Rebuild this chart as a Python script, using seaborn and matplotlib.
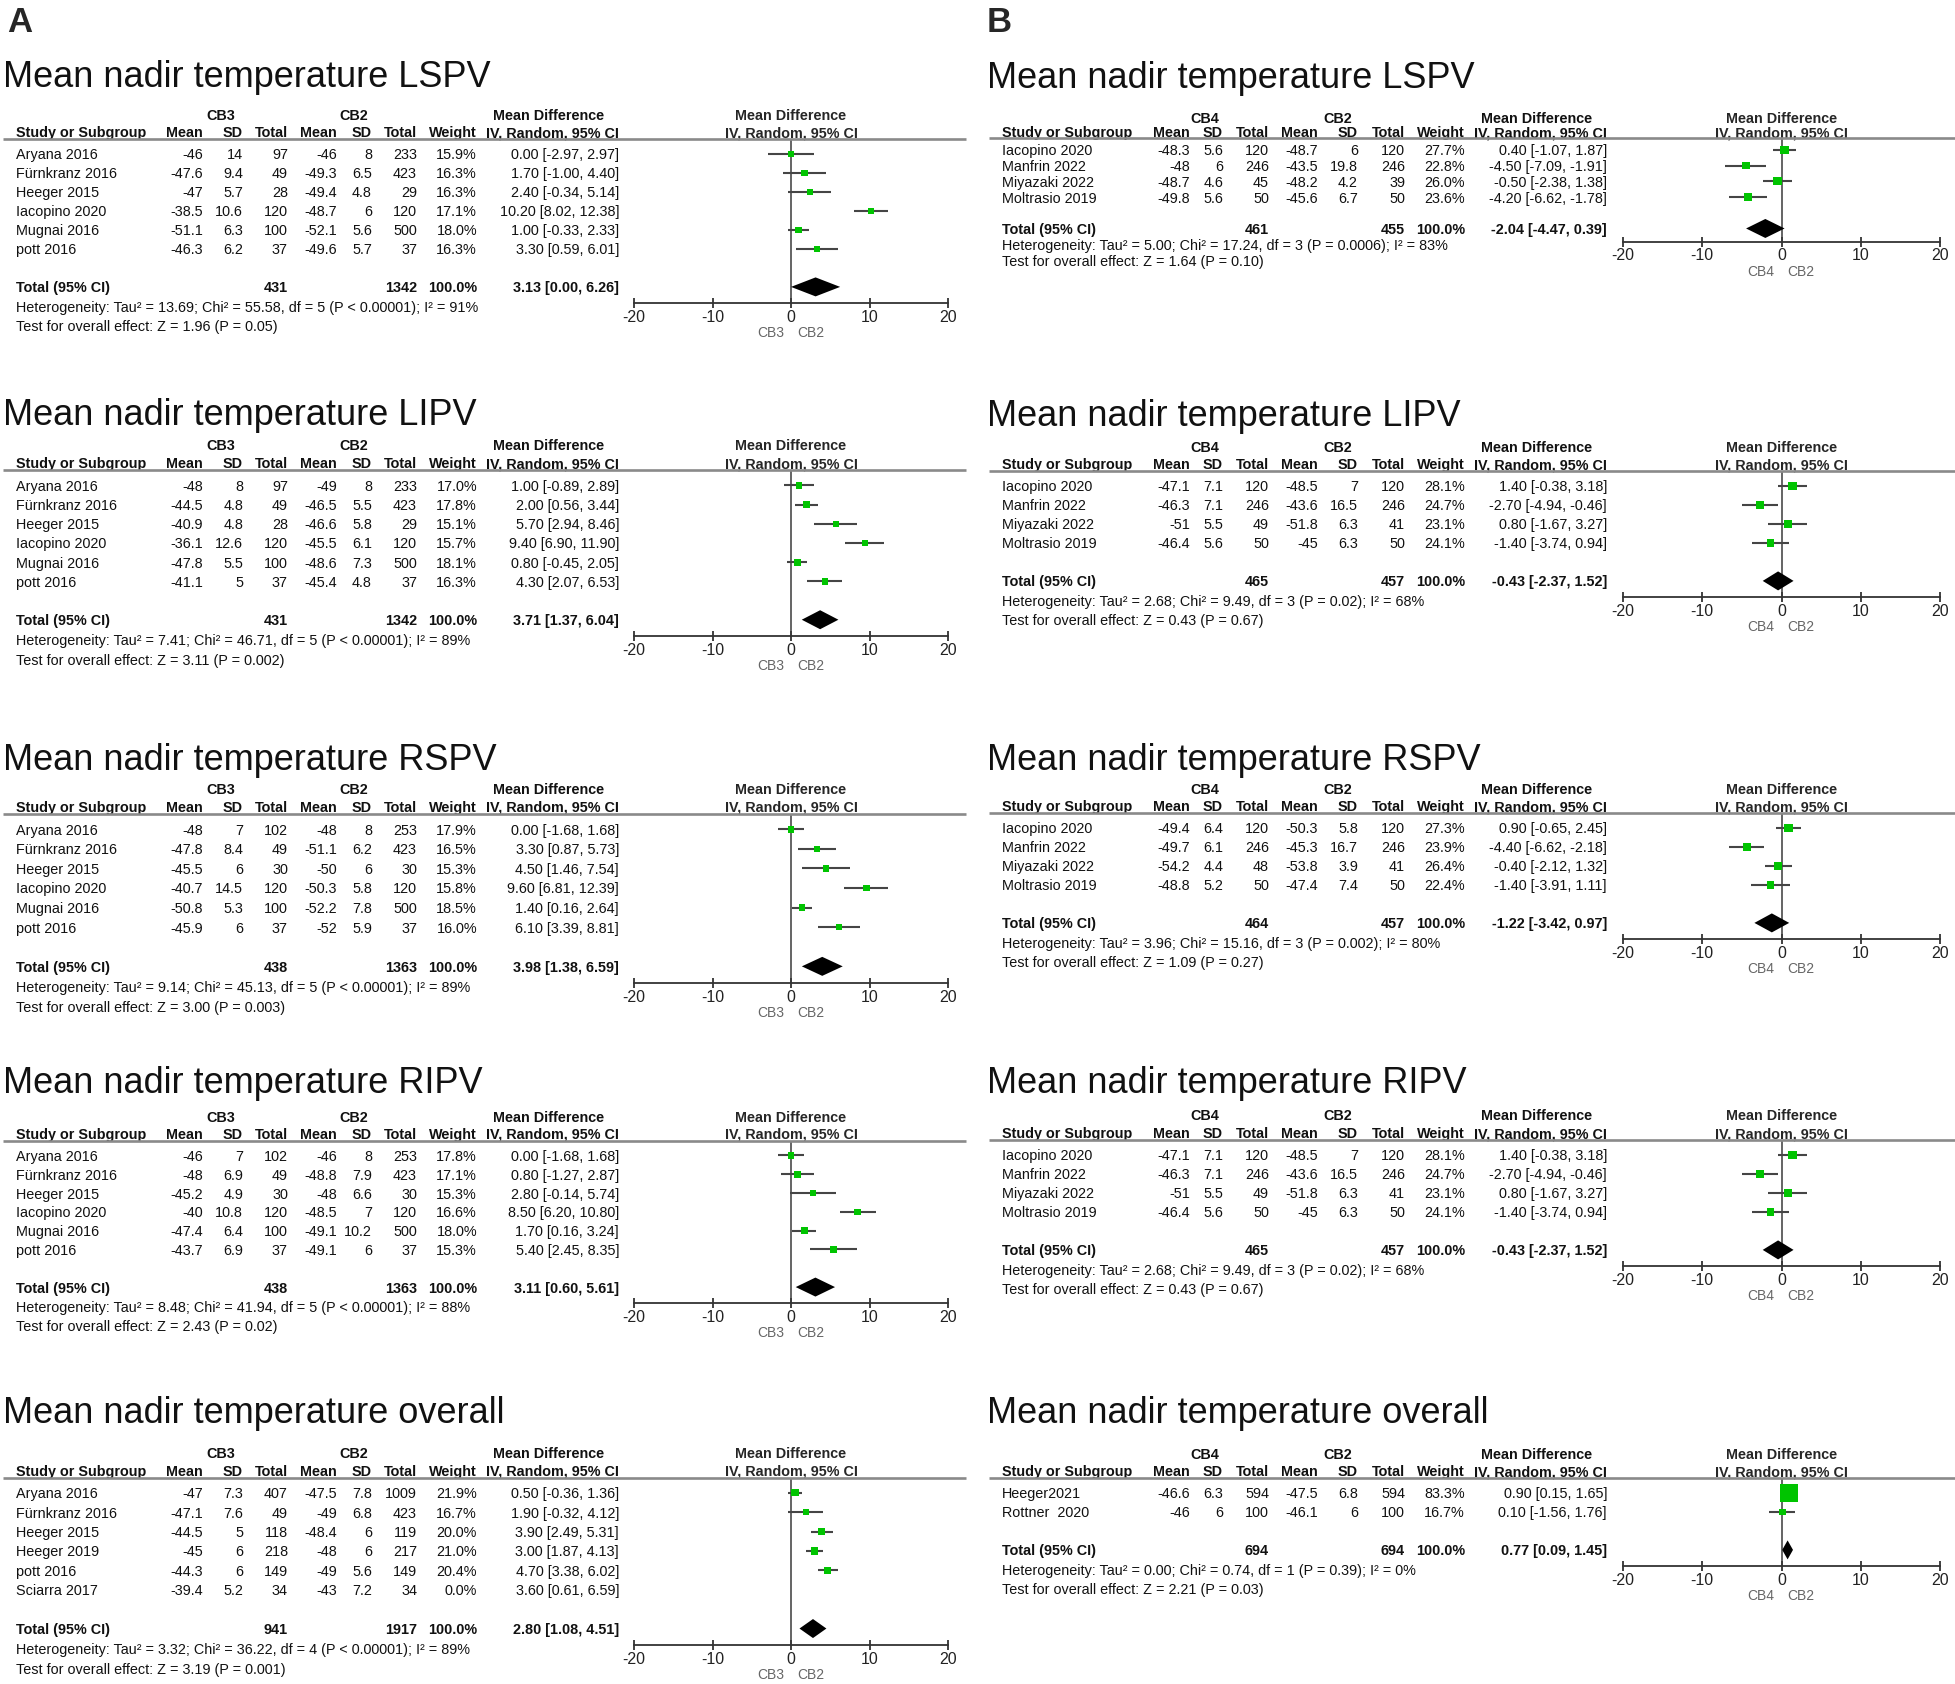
import numpy as np
import pandas as pd
import seaborn as sns
import matplotlib.pyplot as plt
from matplotlib.lines import Line2D
from matplotlib.transforms import blended_transform_factory

W, H = 1955, 1684

# ---------------- data: panel A (CB3 vs CB2) ----------------
a_study = ["Aryana 2016", "Fürnkranz 2016", "Heeger 2015", "Iacopino 2020", "Mugnai 2016", "pott 2016"]

a_lspv_m1 = [-46, -47.6, -47, -38.5, -51.1, -46.3]
a_lspv_sd1 = [14, 9.4, 5.7, 10.6, 6.3, 6.2]
a_lspv_n1 = [97, 49, 28, 120, 100, 37]
a_lspv_m2 = [-46, -49.3, -49.4, -48.7, -52.1, -49.6]
a_lspv_sd2 = [8, 6.5, 4.8, 6, 5.6, 5.7]
a_lspv_n2 = [233, 423, 29, 120, 500, 37]
a_lspv_w = [15.9, 16.3, 16.3, 17.1, 18.0, 16.3]
a_lspv_md = [0.00, 1.70, 2.40, 10.20, 1.00, 3.30]
a_lspv_lo = [-2.97, -1.00, -0.34, 8.02, -0.33, 0.59]
a_lspv_hi = [2.97, 4.40, 5.14, 12.38, 2.33, 6.01]
a_lspv_total = [431, 1342, 3.13, 0.00, 6.26]
a_lspv_het = "Heterogeneity: Tau² = 13.69; Chi² = 55.58, df = 5 (P < 0.00001); I² = 91%"
a_lspv_test = "Test for overall effect: Z = 1.96 (P = 0.05)"

a_lipv_m1 = [-48, -44.5, -40.9, -36.1, -47.8, -41.1]
a_lipv_sd1 = [8, 4.8, 4.8, 12.6, 5.5, 5]
a_lipv_n1 = [97, 49, 28, 120, 100, 37]
a_lipv_m2 = [-49, -46.5, -46.6, -45.5, -48.6, -45.4]
a_lipv_sd2 = [8, 5.5, 5.8, 6.1, 7.3, 4.8]
a_lipv_n2 = [233, 423, 29, 120, 500, 37]
a_lipv_w = [17.0, 17.8, 15.1, 15.7, 18.1, 16.3]
a_lipv_md = [1.00, 2.00, 5.70, 9.40, 0.80, 4.30]
a_lipv_lo = [-0.89, 0.56, 2.94, 6.90, -0.45, 2.07]
a_lipv_hi = [2.89, 3.44, 8.46, 11.90, 2.05, 6.53]
a_lipv_total = [431, 1342, 3.71, 1.37, 6.04]
a_lipv_het = "Heterogeneity: Tau² = 7.41; Chi² = 46.71, df = 5 (P < 0.00001); I² = 89%"
a_lipv_test = "Test for overall effect: Z = 3.11 (P = 0.002)"

a_rspv_m1 = [-48, -47.8, -45.5, -40.7, -50.8, -45.9]
a_rspv_sd1 = [7, 8.4, 6, 14.5, 5.3, 6]
a_rspv_n1 = [102, 49, 30, 120, 100, 37]
a_rspv_m2 = [-48, -51.1, -50, -50.3, -52.2, -52]
a_rspv_sd2 = [8, 6.2, 6, 5.8, 7.8, 5.9]
a_rspv_n2 = [253, 423, 30, 120, 500, 37]
a_rspv_w = [17.9, 16.5, 15.3, 15.8, 18.5, 16.0]
a_rspv_md = [0.00, 3.30, 4.50, 9.60, 1.40, 6.10]
a_rspv_lo = [-1.68, 0.87, 1.46, 6.81, 0.16, 3.39]
a_rspv_hi = [1.68, 5.73, 7.54, 12.39, 2.64, 8.81]
a_rspv_total = [438, 1363, 3.98, 1.38, 6.59]
a_rspv_het = "Heterogeneity: Tau² = 9.14; Chi² = 45.13, df = 5 (P < 0.00001); I² = 89%"
a_rspv_test = "Test for overall effect: Z = 3.00 (P = 0.003)"

a_ripv_m1 = [-46, -48, -45.2, -40, -47.4, -43.7]
a_ripv_sd1 = [7, 6.9, 4.9, 10.8, 6.4, 6.9]
a_ripv_n1 = [102, 49, 30, 120, 100, 37]
a_ripv_m2 = [-46, -48.8, -48, -48.5, -49.1, -49.1]
a_ripv_sd2 = [8, 7.9, 6.6, 7, 10.2, 6]
a_ripv_n2 = [253, 423, 30, 120, 500, 37]
a_ripv_w = [17.8, 17.1, 15.3, 16.6, 18.0, 15.3]
a_ripv_md = [0.00, 0.80, 2.80, 8.50, 1.70, 5.40]
a_ripv_lo = [-1.68, -1.27, -0.14, 6.20, 0.16, 2.45]
a_ripv_hi = [1.68, 2.87, 5.74, 10.80, 3.24, 8.35]
a_ripv_total = [438, 1363, 3.11, 0.60, 5.61]
a_ripv_het = "Heterogeneity: Tau² = 8.48; Chi² = 41.94, df = 5 (P < 0.00001); I² = 88%"
a_ripv_test = "Test for overall effect: Z = 2.43 (P = 0.02)"

a_all_study = ["Aryana 2016", "Fürnkranz 2016", "Heeger 2015", "Heeger 2019", "pott 2016", "Sciarra 2017"]
a_all_m1 = [-47, -47.1, -44.5, -45, -44.3, -39.4]
a_all_sd1 = [7.3, 7.6, 5, 6, 6, 5.2]
a_all_n1 = [407, 49, 118, 218, 149, 34]
a_all_m2 = [-47.5, -49, -48.4, -48, -49, -43]
a_all_sd2 = [7.8, 6.8, 6, 6, 5.6, 7.2]
a_all_n2 = [1009, 423, 119, 217, 149, 34]
a_all_w = [21.9, 16.7, 20.0, 21.0, 20.4, 0.0]
a_all_md = [0.50, 1.90, 3.90, 3.00, 4.70, 3.60]
a_all_lo = [-0.36, -0.32, 2.49, 1.87, 3.38, 0.61]
a_all_hi = [1.36, 4.12, 5.31, 4.13, 6.02, 6.59]
a_all_total = [941, 1917, 2.80, 1.08, 4.51]
a_all_het = "Heterogeneity: Tau² = 3.32; Chi² = 36.22, df = 4 (P < 0.00001); I² = 89%"
a_all_test = "Test for overall effect: Z = 3.19 (P = 0.001)"

# ---------------- data: panel B (CB4 vs CB2) ----------------
b_study = ["Iacopino 2020", "Manfrin 2022", "Miyazaki 2022", "Moltrasio 2019"]

b_lspv_m1 = [-48.3, -48, -48.7, -49.8]
b_lspv_sd1 = [5.6, 6, 4.6, 5.6]
b_lspv_n1 = [120, 246, 45, 50]
b_lspv_m2 = [-48.7, -43.5, -48.2, -45.6]
b_lspv_sd2 = [6, 19.8, 4.2, 6.7]
b_lspv_n2 = [120, 246, 39, 50]
b_lspv_w = [27.7, 22.8, 26.0, 23.6]
b_lspv_md = [0.40, -4.50, -0.50, -4.20]
b_lspv_lo = [-1.07, -7.09, -2.38, -6.62]
b_lspv_hi = [1.87, -1.91, 1.38, -1.78]
b_lspv_total = [461, 455, -2.04, -4.47, 0.39]
b_lspv_het = "Heterogeneity: Tau² = 5.00; Chi² = 17.24, df = 3 (P = 0.0006); I² = 83%"
b_lspv_test = "Test for overall effect: Z = 1.64 (P = 0.10)"

b_lipv_m1 = [-47.1, -46.3, -51, -46.4]
b_lipv_sd1 = [7.1, 7.1, 5.5, 5.6]
b_lipv_n1 = [120, 246, 49, 50]
b_lipv_m2 = [-48.5, -43.6, -51.8, -45]
b_lipv_sd2 = [7, 16.5, 6.3, 6.3]
b_lipv_n2 = [120, 246, 41, 50]
b_lipv_w = [28.1, 24.7, 23.1, 24.1]
b_lipv_md = [1.40, -2.70, 0.80, -1.40]
b_lipv_lo = [-0.38, -4.94, -1.67, -3.74]
b_lipv_hi = [3.18, -0.46, 3.27, 0.94]
b_lipv_total = [465, 457, -0.43, -2.37, 1.52]
b_lipv_het = "Heterogeneity: Tau² = 2.68; Chi² = 9.49, df = 3 (P = 0.02); I² = 68%"
b_lipv_test = "Test for overall effect: Z = 0.43 (P = 0.67)"

b_rspv_m1 = [-49.4, -49.7, -54.2, -48.8]
b_rspv_sd1 = [6.4, 6.1, 4.4, 5.2]
b_rspv_n1 = [120, 246, 48, 50]
b_rspv_m2 = [-50.3, -45.3, -53.8, -47.4]
b_rspv_sd2 = [5.8, 16.7, 3.9, 7.4]
b_rspv_n2 = [120, 246, 41, 50]
b_rspv_w = [27.3, 23.9, 26.4, 22.4]
b_rspv_md = [0.90, -4.40, -0.40, -1.40]
b_rspv_lo = [-0.65, -6.62, -2.12, -3.91]
b_rspv_hi = [2.45, -2.18, 1.32, 1.11]
b_rspv_total = [464, 457, -1.22, -3.42, 0.97]
b_rspv_het = "Heterogeneity: Tau² = 3.96; Chi² = 15.16, df = 3 (P = 0.002); I² = 80%"
b_rspv_test = "Test for overall effect: Z = 1.09 (P = 0.27)"

# the RIPV panel of B repeats the LIPV numbers in the source figure
b_ripv_m1 = [-47.1, -46.3, -51, -46.4]
b_ripv_sd1 = [7.1, 7.1, 5.5, 5.6]
b_ripv_n1 = [120, 246, 49, 50]
b_ripv_m2 = [-48.5, -43.6, -51.8, -45]
b_ripv_sd2 = [7, 16.5, 6.3, 6.3]
b_ripv_n2 = [120, 246, 41, 50]
b_ripv_w = [28.1, 24.7, 23.1, 24.1]
b_ripv_md = [1.40, -2.70, 0.80, -1.40]
b_ripv_lo = [-0.38, -4.94, -1.67, -3.74]
b_ripv_hi = [3.18, -0.46, 3.27, 0.94]
b_ripv_total = [465, 457, -0.43, -2.37, 1.52]
b_ripv_het = "Heterogeneity: Tau² = 2.68; Chi² = 9.49, df = 3 (P = 0.02); I² = 68%"
b_ripv_test = "Test for overall effect: Z = 0.43 (P = 0.67)"

b_all_study = ["Heeger2021", "Rottner  2020"]
b_all_m1 = [-46.6, -46]
b_all_sd1 = [6.3, 6]
b_all_n1 = [594, 100]
b_all_m2 = [-47.5, -46.1]
b_all_sd2 = [6.8, 6]
b_all_n2 = [594, 100]
b_all_w = [83.3, 16.7]
b_all_md = [0.90, 0.10]
b_all_lo = [0.15, -1.56]
b_all_hi = [1.65, 1.76]
b_all_total = [694, 694, 0.77, 0.09, 1.45]
b_all_het = "Heterogeneity: Tau² = 0.00; Chi² = 0.74, df = 1 (P = 0.39); I² = 0%"
b_all_test = "Test for overall effect: Z = 2.21 (P = 0.03)"

xticks = [-20, -10, 0, 10, 20]

# ---------------- layout (pixels) ----------------
COLS_A = dict(study=16, m1=203, sd1=243, n1=288, m2=337, sd2=372, n2=417, w=477, ci=619,
              g1=221, g2=354, md=549, left=3, right=966, ax0=634, ax1=948, title=3)
COLS_B = dict(study=1002, m1=1190, sd1=1223, n1=1269, m2=1318, sd2=1358, n2=1405, w=1465, ci=1607,
              g1=1205, g2=1338, md=1537, left=989, right=1955, ax0=1623, ax1=1940, title=987)

GREEN = "#00c400"
FS = 10.4

sns.set_theme(style="white")
plt.rcParams['font.family'] = ['Liberation Sans', 'DejaVu Sans']
plt.rcParams['axes.unicode_minus'] = False

fig = plt.figure(figsize=(W / 100, H / 100), dpi=100)
fig.patch.set_facecolor("white")


def forest(cols, g1name, title, title_y, h1, step, study, m1, sd1, n1, m2, sd2, n2,
           w, md, lo, hi, total, het, test):
    n = len(study)
    row0 = h1 + 2.1 * step
    r_top, r_axis = -0.78, n + 1.87
    top = row0 + r_top * step
    bottom = row0 + r_axis * step
    ax = fig.add_axes([cols['ax0'] / W, 1 - bottom / H,
                       (cols['ax1'] - cols['ax0']) / W, (bottom - top) / H])
    ax.patch.set_visible(False)
    tr = blended_transform_factory(fig.transFigure, ax.transData)

    def put(xpx, r, s, ha='right', bold=False, **kw):
        ax.text(xpx / W, r, s, transform=tr, ha=ha, va='center_baseline', fontsize=FS,
                fontweight='bold' if bold else 'normal', color='#111111', **kw)

    fig.text(cols['title'] / W, 1 - title_y / H, title, fontsize=26, va='baseline', color='#111111')

    # header rows
    rh1, rh2 = -2.1, -1.17
    put(cols['g1'], rh1, g1name, ha='center', bold=True)
    put(cols['g2'], rh1, "CB2", ha='center', bold=True)
    put(cols['md'], rh1, "Mean Difference", ha='center', bold=True)
    ax.text(0, rh1, "Mean Difference", ha='center', va='center_baseline', fontsize=FS, fontweight='bold')
    put(cols['study'], rh2, "Study or Subgroup", ha='left', bold=True)
    for key, lab in [('m1', 'Mean'), ('sd1', 'SD'), ('n1', 'Total'), ('m2', 'Mean'),
                     ('sd2', 'SD'), ('n2', 'Total'), ('w', 'Weight'), ('ci', 'IV, Random, 95% CI')]:
        put(cols[key], rh2, lab, bold=True)
    ax.text(0, rh2, "IV, Random, 95% CI", ha='center', va='center_baseline', fontsize=FS, fontweight='bold')
    fig.add_artist(Line2D([cols['left'] / W, cols['right'] / W], [r_top, r_top], transform=tr,
                          color='#8a8a8a', lw=1.9, solid_capstyle='butt'))

    # study rows
    for i in range(n):
        put(cols['study'], i, study[i], ha='left')
        put(cols['m1'], i, f"{m1[i]:g}")
        put(cols['sd1'], i, f"{sd1[i]:g}")
        put(cols['n1'], i, f"{n1[i]}")
        put(cols['m2'], i, f"{m2[i]:g}")
        put(cols['sd2'], i, f"{sd2[i]:g}")
        put(cols['n2'], i, f"{n2[i]}")
        put(cols['w'], i, f"{w[i]:.1f}%")
        put(cols['ci'], i, f"{md[i]:.2f} [{lo[i]:.2f}, {hi[i]:.2f}]")

    # total + footnotes
    rt = n + 1
    t1, t2, tmd, tlo, thi = total
    put(cols['study'], rt, "Total (95% CI)", ha='left', bold=True)
    put(cols['n1'], rt, f"{t1}", bold=True)
    put(cols['n2'], rt, f"{t2}", bold=True)
    put(cols['w'], rt, "100.0%", bold=True)
    put(cols['ci'], rt, f"{tmd:.2f} [{tlo:.2f}, {thi:.2f}]", bold=True)
    put(cols['study'], rt + 1.05, het, ha='left')
    put(cols['study'], rt + 2.05, test, ha='left')

    # forest marks (studies with zero weight are not drawn)
    ax.axvline(0, color='#3a3a3a', lw=1.1, zorder=1)
    df = pd.DataFrame({'md': md, 'lo': lo, 'hi': hi, 'row': np.arange(n), 'weight': w})
    df = df[df['weight'] > 0]
    ax.hlines(df['row'], df['lo'], df['hi'], color='#454545', lw=1.5, zorder=2)
    sizes = {wv: ((3.7 + 0.17 * wv) * 0.72) ** 2 for wv in df['weight']}
    sns.scatterplot(data=df, x='md', y='row', size='weight', sizes=sizes, marker='s',
                    color=GREEN, linewidth=0, legend=False, ax=ax, zorder=3)
    dh = 9.5 / step
    ax.fill([tlo, tmd, thi, tmd], [rt, rt - dh, rt, rt + dh], color='black', lw=0, zorder=4)

    ax.set_xlim(-20, 20)
    ax.set_ylim(r_axis, r_top)
    ax.set_xlabel("")
    ax.set_ylabel("")
    ax.set_yticks([])
    ax.set_xticks(xticks)
    ax.set_xticklabels([str(t) for t in xticks])
    for s in ['top', 'left', 'right']:
        ax.spines[s].set_visible(False)
    ax.spines['bottom'].set_color('#333333')
    ax.spines['bottom'].set_linewidth(1.3)
    ax.tick_params(axis='x', bottom=True, direction='inout', length=7, width=1.3,
                   pad=1, labelsize=11.5, colors='#333333', labelcolor='#222222')

    zero = (cols['ax0'] + cols['ax1']) / 2
    rl = r_axis + 28 / step
    ax.text((zero - 7) / W, rl, g1name, transform=tr, ha='right', va='center_baseline',
            fontsize=10, color='#666666')
    ax.text((zero + 6) / W, rl, "CB2", transform=tr, ha='left', va='center_baseline',
            fontsize=10, color='#666666')


fig.text(7 / W, 1 - 32 / H, "A", fontsize=25, fontweight='bold', va='baseline')
fig.text(987 / W, 1 - 32 / H, "B", fontsize=25, fontweight='bold', va='baseline')

forest(COLS_A, "CB3", "Mean nadir temperature LSPV", 87, 114, 19.0, a_study,
       a_lspv_m1, a_lspv_sd1, a_lspv_n1, a_lspv_m2, a_lspv_sd2, a_lspv_n2,
       a_lspv_w, a_lspv_md, a_lspv_lo, a_lspv_hi, a_lspv_total, a_lspv_het, a_lspv_test)
forest(COLS_A, "CB3", "Mean nadir temperature LIPV", 425, 445, 19.2, a_study,
       a_lipv_m1, a_lipv_sd1, a_lipv_n1, a_lipv_m2, a_lipv_sd2, a_lipv_n2,
       a_lipv_w, a_lipv_md, a_lipv_lo, a_lipv_hi, a_lipv_total, a_lipv_het, a_lipv_test)
forest(COLS_A, "CB3", "Mean nadir temperature RSPV", 770, 788, 19.6, a_study,
       a_rspv_m1, a_rspv_sd1, a_rspv_n1, a_rspv_m2, a_rspv_sd2, a_rspv_n2,
       a_rspv_w, a_rspv_md, a_rspv_lo, a_rspv_hi, a_rspv_total, a_rspv_het, a_rspv_test)
forest(COLS_A, "CB3", "Mean nadir temperature RIPV", 1093, 1116, 18.8, a_study,
       a_ripv_m1, a_ripv_sd1, a_ripv_n1, a_ripv_m2, a_ripv_sd2, a_ripv_n2,
       a_ripv_w, a_ripv_md, a_ripv_lo, a_ripv_hi, a_ripv_total, a_ripv_het, a_ripv_test)
forest(COLS_A, "CB3", "Mean nadir temperature overall", 1423, 1452, 19.4, a_all_study,
       a_all_m1, a_all_sd1, a_all_n1, a_all_m2, a_all_sd2, a_all_n2,
       a_all_w, a_all_md, a_all_lo, a_all_hi, a_all_total, a_all_het, a_all_test)

forest(COLS_B, "CB4", "Mean nadir temperature LSPV", 88, 117, 15.7, b_study,
       b_lspv_m1, b_lspv_sd1, b_lspv_n1, b_lspv_m2, b_lspv_sd2, b_lspv_n2,
       b_lspv_w, b_lspv_md, b_lspv_lo, b_lspv_hi, b_lspv_total, b_lspv_het, b_lspv_test)
forest(COLS_B, "CB4", "Mean nadir temperature LIPV", 426, 446, 19.0, b_study,
       b_lipv_m1, b_lipv_sd1, b_lipv_n1, b_lipv_m2, b_lipv_sd2, b_lipv_n2,
       b_lipv_w, b_lipv_md, b_lipv_lo, b_lipv_hi, b_lipv_total, b_lipv_het, b_lipv_test)
forest(COLS_B, "CB4", "Mean nadir temperature RSPV", 770, 788, 19.0, b_study,
       b_rspv_m1, b_rspv_sd1, b_rspv_n1, b_rspv_m2, b_rspv_sd2, b_rspv_n2,
       b_rspv_w, b_rspv_md, b_rspv_lo, b_rspv_hi, b_rspv_total, b_rspv_het, b_rspv_test)
forest(COLS_B, "CB4", "Mean nadir temperature RIPV", 1093, 1115, 19.0, b_study,
       b_ripv_m1, b_ripv_sd1, b_ripv_n1, b_ripv_m2, b_ripv_sd2, b_ripv_n2,
       b_ripv_w, b_ripv_md, b_ripv_lo, b_ripv_hi, b_ripv_total, b_ripv_het, b_ripv_test)
forest(COLS_B, "CB4", "Mean nadir temperature overall", 1423, 1453, 19.0, b_all_study,
       b_all_m1, b_all_sd1, b_all_n1, b_all_m2, b_all_sd2, b_all_n2,
       b_all_w, b_all_md, b_all_lo, b_all_hi, b_all_total, b_all_het, b_all_test)

fig.savefig("out.png", dpi=100, facecolor="white")
